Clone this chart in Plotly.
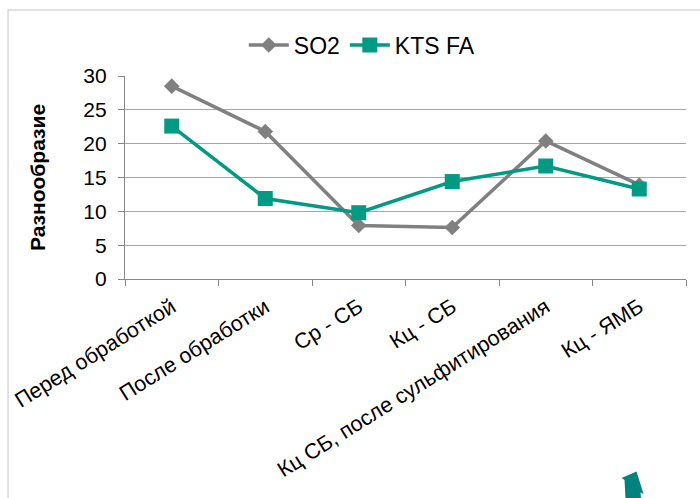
import plotly.graph_objects as go

# Categories and series values
categories = [
    "Перед обработкой",
    "После обработки",
    "Ср - СБ",
    "Кц - СБ",
    "Кц СБ, после сульфитирования",
    "Кц - ЯМБ",
]
so2 = [28.5, 21.8, 7.9, 7.6, 20.4, 13.9]
kts_fa = [22.6, 11.9, 9.8, 14.4, 16.7, 13.3]
y_ticks = [0, 5, 10, 15, 20, 25, 30]

GRAY = "#808080"
TEAL = "#009B82"
FONT = "Liberation Sans, Arial, sans-serif"

W, H = 700, 498
L, R, T, B = 125, 13.5, 76, 219
pw, ph = W - L - R, H - T - B


def px(x):
    return (x - L) / pw


def py(y):
    return (H - B - y) / ph


fig = go.Figure()
fig.add_trace(go.Scatter(
    x=categories, y=so2, name="SO2", mode="lines+markers",
    line=dict(color=GRAY, width=3.5),
    marker=dict(symbol="diamond", size=12, color=GRAY),
))
fig.add_trace(go.Scatter(
    x=categories, y=kts_fa, name="KTS FA", mode="lines+markers",
    line=dict(color=TEAL, width=3.5),
    marker=dict(symbol="square", size=15, color=TEAL),
))

# outer chart frame
fig.add_shape(type="rect", xref="paper", yref="paper",
              x0=px(8), x1=px(720), y0=py(520), y1=py(10),
              line=dict(color="#D9D9D9", width=1.5), layer="below")

# small teal arrow in the lower right corner
arrow = [(622, 478), (637, 471.5), (644, 494), (641, 492.5),
         (641.5, 500), (626, 500), (625, 480)]
path = "M " + " L ".join(f"{px(a):.5f},{py(b):.5f}" for a, b in arrow) + " Z"
fig.add_shape(type="path", xref="paper", yref="paper", path=path,
              fillcolor="#00827F", line=dict(width=0))

fig.update_layout(
    width=W, height=H,
    margin=dict(l=L, r=R, t=T, b=B, pad=0),
    paper_bgcolor="white", plot_bgcolor="white",
    font=dict(family=FONT, size=20, color="black"),
    showlegend=True,
    legend=dict(orientation="h", x=px(362), xanchor="center",
                y=py(45), yanchor="middle",
                font=dict(size=23), bgcolor="rgba(0,0,0,0)",
                itemwidth=40, tracegroupgap=0),
    xaxis=dict(
        type="category", range=[-0.5, 5.5],
        tickson="boundaries", ticks="outside", ticklen=6,
        tickcolor="#868686", tickwidth=1.3,
        showline=True, linecolor="#868686", linewidth=1.3,
        showgrid=False, tickangle=-32,
        tickfont=dict(size=21.5), ticklabelstandoff=6,
    ),
    yaxis=dict(
        range=[0, 30], tickvals=y_ticks, ticks="outside", ticklen=6,
        tickcolor="#868686", tickwidth=1.3,
        showline=True, linecolor="#868686", linewidth=1.3,
        showgrid=True, gridcolor="#A6A6A6", gridwidth=1.3,
        zeroline=False, tickfont=dict(size=21), ticklabelstandoff=7,
        title=dict(text="<b>Разнообразие</b>", font=dict(size=21),
                   standoff=31),
    ),
)

fig.write_html("out.html")
